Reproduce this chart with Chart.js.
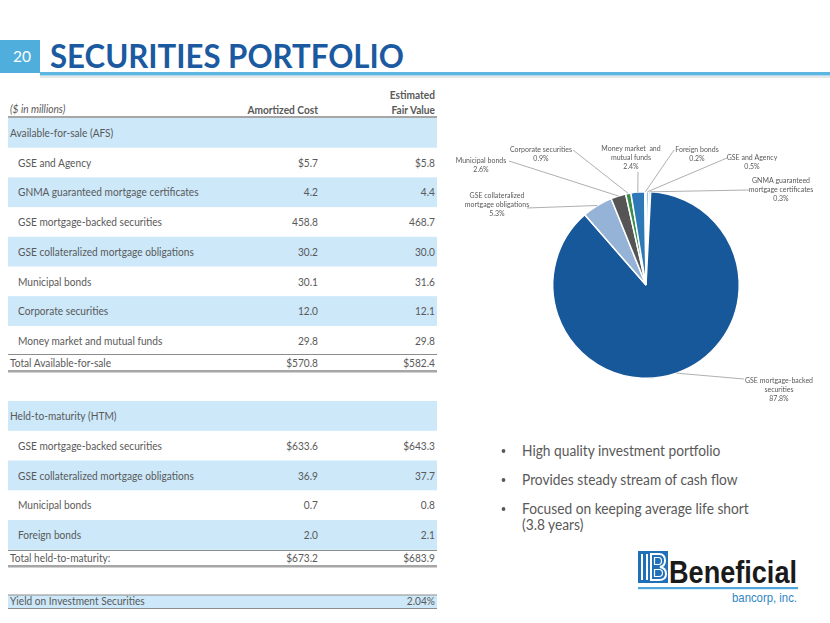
<!DOCTYPE html>
<html>
<head>
<meta charset="utf-8">
<script src="https://cdn.jsdelivr.net/npm/chart.js@4/dist/chart.umd.min.js"></script>
<style>
html,body{margin:0;padding:0;background:#fff;}
body{width:830px;height:623px;position:relative;overflow:hidden;}
#page{position:absolute;left:0;top:0;}
#pie{position:absolute;left:0;top:0;}
</style>
</head>
<body>
<svg id="page" width="830" height="623" xmlns="http://www.w3.org/2000/svg"></svg>
<canvas id="pie" width="830" height="623"></canvas>
<script>
// ---------------- DATA ----------------
const pageNumber = '20';
const pageTitle = 'SECURITIES PORTFOLIO';
const colHeaders = ['($ in millions)', 'Amortized Cost', 'Estimated', 'Fair Value'];

const afsHeader = 'Available-for-sale (AFS)';
const afsItems = ['GSE and Agency', 'GNMA guaranteed mortgage certificates', 'GSE mortgage-backed securities',
  'GSE collateralized mortgage obligations', 'Municipal bonds', 'Corporate securities', 'Money market and mutual funds'];
const afsAmortized = ['$5.7', '4.2', '458.8', '30.2', '30.1', '12.0', '29.8'];
const afsFair = ['$5.8', '4.4', '468.7', '30.0', '31.6', '12.1', '29.8'];
const afsTotal = ['Total Available-for-sale', '$570.8', '$582.4'];

const htmHeader = 'Held-to-maturity (HTM)';
const htmItems = ['GSE mortgage-backed securities', 'GSE collateralized mortgage obligations', 'Municipal bonds', 'Foreign bonds'];
const htmAmortized = ['$633.6', '36.9', '0.7', '2.0'];
const htmFair = ['$643.3', '37.7', '0.8', '2.1'];
const htmTotal = ['Total held-to-maturity:', '$673.2', '$683.9'];

const yieldRow = ['Yield on Investment Securities', '2.04%'];

const pieCategories = ['GSE and Agency', 'GNMA guaranteed mortgage certificates', 'GSE mortgage-backed securities',
  'GSE collateralized mortgage obligations', 'Municipal bonds', 'Corporate securities', 'Money market and mutual funds', 'Foreign bonds'];
const pieShares = [0.5, 0.3, 87.8, 5.3, 2.6, 0.9, 2.4, 0.2];
const pieLabelLines = [['GSE and Agency'], ['GNMA guaranteed', 'mortgage certificates'], ['GSE mortgage-backed', 'securities'],
  ['GSE collateralized', 'mortgage obligations'], ['Municipal bonds'], ['Corporate securities'], ['Money market  and', 'mutual funds'], ['Foreign bonds']];

const bullets = [['High quality investment portfolio'], ['Provides steady stream of cash flow'],
  ['Focused on keeping average life short', '(3.8 years)']];
const logoName = 'Beneficial';
const logoSub = 'bancorp, inc.';

// ---------------- STYLE ----------------
const pieColors = ['#9DC3E6', '#4A8FD0', '#17589A', '#95B3D7', '#555555', '#3A8C4A', '#2E78B8', '#DCE6F2'];
const textGray = '#595959';
const shade = '#CCE8F9';
const FAMILY = 'Lato, "Open Sans", sans-serif';

const mctx = document.createElement('canvas').getContext('2d');
function widthAt(text, weight, size) {
  mctx.font = `normal ${weight} ${size}px ${FAMILY}`;
  return mctx.measureText(text).width;
}
// Calibri-like: taller glyphs, narrower set width -> horizontal scale
const tableFs = 10.6;
const tableSx = 181 / widthAt(afsItems[1], 400, tableFs);
const bulletFs = 15;
const bulletSx = 199 / widthAt(bullets[0][0], 400, bulletFs);
const pieFs = 8.4;
const pieSx = 62 / widthAt(pieLabelLines[5][0], 400, pieFs);

// ---------------- SVG LAYOUT ----------------
const NS = 'http://www.w3.org/2000/svg';
const svg = document.getElementById('page');
function add(tag, attrs, text) {
  const e = document.createElementNS(NS, tag);
  for (const k in attrs) e.setAttribute(k, attrs[k]);
  if (text !== undefined) e.textContent = text;
  svg.appendChild(e);
  return e;
}
function txt(x, y, s, opts = {}, fs = tableFs, sx = tableSx) {
  return add('text', Object.assign({x: 0, y: 0, transform: `translate(${x},${y}) scale(${sx},1)`,
    'font-family': FAMILY, 'font-size': fs, fill: textGray}, opts), s);
}
function rect(x, y, w, h, fill) { return add('rect', {x, y, width: w, height: h, fill}); }
function hline(y, w, color) { return rect(8, y, 429, w, color); }

// header bar
rect(0, 40, 40, 33, '#4FAEDC');
rect(40, 76, 790, 2, '#E6E6E6');
rect(40, 72, 790, 3.5, '#5DB6E2');
txt(22, 62, pageNumber, {'text-anchor': 'middle', fill: '#fff'}, 15.5, 1);
txt(50, 68, pageTitle, {'font-weight': 700, fill: '#1B5AA0', textLength: 354, lengthAdjust: 'spacingAndGlyphs'}, 32, 1);

// table header
const XL = 10, XI = 18, XA = 318, XF = 435;
txt(XL, 113, colHeaders[0], {'font-style': 'italic'});
txt(XA, 114, colHeaders[1], {'text-anchor': 'end', 'font-weight': 700});
txt(XF, 99, colHeaders[2], {'text-anchor': 'end', 'font-weight': 700});
txt(XF, 114, colHeaders[3], {'text-anchor': 'end', 'font-weight': 700});
hline(116, 2, '#A6A6A6');

// AFS block
const step = 29.7;
rect(8, 118, 429, step, shade);
txt(XL, 118 + 19, afsHeader);
afsItems.forEach((name, i) => {
  const top = 118 + (i + 1) * step;
  if (i % 2 === 1) rect(8, top, 429, step, shade);
  txt(XI, top + 19, name);
  txt(XA, top + 19, afsAmortized[i], {'text-anchor': 'end'});
  txt(XF, top + 19, afsFair[i], {'text-anchor': 'end'});
});
hline(354, 1, '#8C8C8C');
txt(XL, 367, afsTotal[0]);
txt(XA, 367, afsTotal[1], {'text-anchor': 'end'});
txt(XF, 367, afsTotal[2], {'text-anchor': 'end'});
hline(370, 2.5, '#A6A6A6');

// HTM block
const step2 = 29.75;
rect(8, 401, 429, step2, shade);
txt(XL, 401 + 19, htmHeader);
htmItems.forEach((name, i) => {
  const top = 401 + (i + 1) * step2;
  if (i % 2 === 1) rect(8, top, 429, step2, shade);
  txt(XI, top + 19, name);
  txt(XA, top + 19, htmAmortized[i], {'text-anchor': 'end'});
  txt(XF, top + 19, htmFair[i], {'text-anchor': 'end'});
});
hline(550, 1, '#8C8C8C');
txt(XL, 562, htmTotal[0]);
txt(XA, 562, htmTotal[1], {'text-anchor': 'end'});
txt(XF, 562, htmTotal[2], {'text-anchor': 'end'});
hline(565, 2.5, '#A6A6A6');

// Yield
rect(8, 595, 429, 13, shade);
hline(594.5, 1, '#8C8C8C');
hline(608, 1, '#8C8C8C');
txt(XL, 605, yieldRow[0]);
txt(XF, 605, yieldRow[1], {'text-anchor': 'end'});

// bullets
const bulletBase = [456, 485, 514];
bullets.forEach((lines, i) => {
  add('circle', {cx: 503.5, cy: bulletBase[i] - 5, r: 1.9, fill: textGray});
  lines.forEach((l, k) => txt(522, bulletBase[i] + k * 16, l, {}, bulletFs, bulletSx));
});

// logo
rect(638, 551, 30, 32, '#1F70B8');
rect(641, 554, 2, 26, '#fff');
rect(646, 554, 2, 26, '#fff');
add('path', {d: 'M651 554 H659 Q665 554 665 560.5 Q665 566 660 567 Q666 568 666 574 Q666 580 659 580 H651 Z', fill: 'none', stroke: '#fff', 'stroke-width': 2});
add('path', {d: 'M654.5 557.5 H658.5 Q661.5 557.5 661.5 561 Q661.5 564.5 658.5 564.5 H654.5 Z M654.5 569.5 H659 Q662.5 569.5 662.5 573 Q662.5 576.5 659 576.5 H654.5 Z', fill: 'none', stroke: '#fff', 'stroke-width': 1.2});
add('text', {x: 669, y: 583, 'font-family': '"Liberation Sans", Arial, sans-serif', 'font-size': 31, 'font-weight': 700, fill: '#1A1A1A', textLength: 128, lengthAdjust: 'spacingAndGlyphs'}, logoName);
rect(638, 587, 160, 2.2, '#4FA6DC');
add('text', {x: 732, y: 602, 'font-family': '"Liberation Sans", Arial, sans-serif', 'font-size': 13, fill: '#2F86C6', textLength: 65, lengthAdjust: 'spacingAndGlyphs'}, logoSub);

// ---------------- PIE ----------------
// label block placement: text centre x, first line y, leader-line end point
const labelLayout = [
  {tx: 752, ty: 157, lx: 727, ly: 158},
  {tx: 781, ty: 180, lx: 749, ly: 190},
  {tx: 779, ty: 380, lx: 744, ly: 379},
  {tx: 497, ty: 195, lx: 527, ly: 208},
  {tx: 481, ty: 160, lx: 509, ly: 161},
  {tx: 541, ty: 149, lx: 573, ly: 150},
  {tx: 631, ty: 148, lx: 638, ly: 172},
  {tx: 697, ty: 149, lx: 674, ly: 150}
];
const leaderPlugin = {
  id: 'leaders',
  afterDatasetsDraw(chart) {
    const ctx = chart.ctx;
    const arcs = chart.getDatasetMeta(0).data;
    arcs.forEach((arc, i) => {
      const p = arc.getProps(['x', 'y', 'startAngle', 'endAngle', 'outerRadius'], true);
      const mid = (p.startAngle + p.endAngle) / 2;
      const sx = p.x + Math.cos(mid) * p.outerRadius;
      const sy = p.y + Math.sin(mid) * p.outerRadius;
      const L = labelLayout[i];
      ctx.save();
      ctx.strokeStyle = '#A6A6A6';
      ctx.lineWidth = 0.9;
      ctx.beginPath();
      ctx.moveTo(sx, sy);
      ctx.lineTo(L.lx, L.ly);
      ctx.stroke();
      ctx.fillStyle = textGray;
      ctx.font = `${pieFs}px ${FAMILY}`;
      ctx.textAlign = 'center';
      ctx.textBaseline = 'middle';
      const lines = pieLabelLines[i].concat([pieShares[i].toFixed(1) + '%']);
      lines.forEach((l, k) => {
        ctx.save();
        ctx.translate(L.tx, L.ty + k * 9);
        ctx.scale(pieSx, 1);
        ctx.fillText(l, 0, 0);
        ctx.restore();
      });
      ctx.restore();
    });
  }
};

new Chart(document.getElementById('pie'), {
  type: 'pie',
  data: {
    labels: pieCategories,
    datasets: [{data: pieShares, backgroundColor: pieColors, borderColor: '#ffffff', borderWidth: 1.5}]
  },
  options: {
    responsive: false,
    animation: false,
    layout: {padding: {left: 552, right: 90, top: 191, bottom: 244}},
    plugins: {legend: {display: false}, tooltip: {enabled: false}}
  },
  plugins: [leaderPlugin]
});
</script>
</body>
</html>
